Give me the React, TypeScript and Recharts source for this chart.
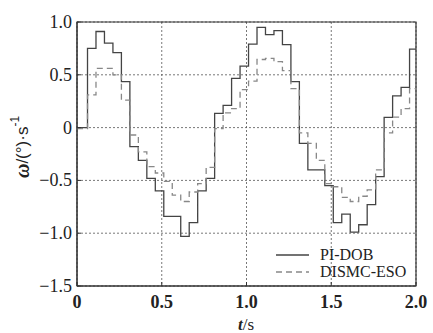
import React from 'react';
import { LineChart, Line, XAxis, YAxis, CartesianGrid, ReferenceArea, Legend, Label } from 'recharts';

const times = [0, 0.062, 0.112, 0.162, 0.212, 0.262, 0.312, 0.362, 0.412, 0.462, 0.512, 0.562, 0.612, 0.662, 0.712, 0.762, 0.812, 0.862, 0.912, 0.962, 1.012, 1.062, 1.112, 1.162, 1.212, 1.262, 1.312, 1.362, 1.412, 1.462, 1.512, 1.562, 1.612, 1.662, 1.712, 1.762, 1.812, 1.862, 1.912, 1.962, 2.0];
const piDob = [0, 0.75, 0.91, 0.8, 0.71, 0.435, -0.18, -0.31, -0.48, -0.6, -0.84, -0.84, -1.03, -0.9, -0.6, -0.48, 0.135, 0.21, 0.467, 0.583, 0.79, 0.95, 0.88, 0.918, 0.785, 0.435, -0.15, -0.4, -0.4, -0.55, -0.9, -0.82, -0.99, -0.92, -0.73, -0.465, 0.097, 0.3, 0.38, 0.744, 0.744];
const dismcEso = [-0.01, 0.31, 0.56, 0.56, 0.5, 0.26, -0.07, -0.23, -0.37, -0.43, -0.51, -0.64, -0.7, -0.61, -0.53, -0.376, -0.01, 0.14, 0.18, 0.36, 0.44, 0.645, 0.655, 0.625, 0.54, 0.37, -0.05, -0.15, -0.31, -0.53, -0.56, -0.66, -0.7, -0.65, -0.59, -0.4, -0.05, 0.1, 0.18, 0.37, 0.37];

const seriesNames = ['PI-DOB', 'DISMC-ESO'];
const xTicks = [0, 0.5, 1.0, 1.5, 2.0];
const xTickLabels = ['0', '0.5', '1.0', '1.5', '2.0'];
const yTicks = [1.0, 0.5, 0, -0.5, -1.0, -1.5];
const yTickLabels = ['1.0', '0.5', '0', '\u22120.5', '\u22121.0', '\u22121.5'];

const data = times.map((t, i) => ({ t, pi: piDob[i], ds: dismcEso[i] }));

const SERIF = '"Liberation Serif", "Times New Roman", serif';
const SANS = '"Liberation Sans", Arial, sans-serif';

const XTick = (props: any) => {
  const { x, y, payload } = props;
  const idx = xTicks.indexOf(payload.value);
  return (
    <g>
      <line x1={x} x2={x} y1={y} y2={y - 4} stroke="#333" strokeWidth={1} />
      <text x={x} y={y + 22} textAnchor="middle" fontFamily={SERIF} fontSize={18} fontWeight="bold" fill="#222">
        {idx >= 0 ? xTickLabels[idx] : payload.value}
      </text>
    </g>
  );
};

const YTick = (props: any) => {
  const { x, y, payload } = props;
  const idx = yTicks.indexOf(payload.value);
  return (
    <g>
      <line x1={x} x2={x + 4} y1={y} y2={y} stroke="#333" strokeWidth={1} />
      <text x={x - 5} y={y + 6} textAnchor="end" fontFamily={SERIF} fontSize={18} fill="#222">
        {idx >= 0 ? yTickLabels[idx] : payload.value}
      </text>
    </g>
  );
};

const renderLegend = () => (
  <svg width={150} height={40}>
    <line x1={6} x2={39} y1={12} y2={12} stroke="#444" strokeWidth={1.3} />
    <text x={50} y={17} fontFamily={SERIF} fontSize={16} fill="#222">{seriesNames[0]}</text>
    <line x1={6} x2={39} y1={29} y2={29} stroke="#888" strokeWidth={1.3} strokeDasharray="6 4" />
    <text x={50} y={34} fontFamily={SERIF} fontSize={16} fill="#222">{seriesNames[1]}</text>
  </svg>
);

export default function App() {
  return (
    <div style={{ position: 'absolute', left: 0, top: 0, width: 433, height: 333, background: '#fff' }}>
      <LineChart width={433} height={333} data={data} margin={{ top: 22, right: 17, bottom: 17, left: 0 }}>
        <CartesianGrid stroke="#555" strokeDasharray="2 2" strokeWidth={0.8} vertical horizontal />
        <XAxis
          dataKey="t"
          type="number"
          domain={[0, 2]}
          ticks={xTicks}
          height={30}
          tickLine={false}
          tickSize={0}
          tickMargin={0}
          axisLine={{ stroke: '#333' }}
          tick={<XTick />}
          allowDataOverflow
        >
          <Label
            content={() => (
              <text x={246} y={330} textAnchor="middle" fontFamily={SERIF} fontSize={17} fill="#222">
                <tspan fontStyle="italic" fontWeight="bold">t</tspan>
                <tspan>/s</tspan>
              </text>
            )}
          />
        </XAxis>
        <YAxis
          type="number"
          domain={[-1.5, 1]}
          ticks={yTicks}
          width={77}
          tickLine={false}
          tickSize={0}
          tickMargin={0}
          axisLine={{ stroke: '#333' }}
          tick={<YTick />}
          allowDataOverflow
        >
          <Label
            content={() => (
              <text
                x={22}
                y={147}
                transform="rotate(-90 22 147)"
                textAnchor="middle"
                dominantBaseline="central"
                fontFamily={SANS}
                fontSize={17}
                fill="#222"
              >
                <tspan fontFamily={SERIF} fontStyle="italic" fontWeight="bold" fontSize={20}>ω</tspan>
                <tspan>/(°)·s</tspan>
                <tspan fontSize={12} dy={-7}>-1</tspan>
              </text>
            )}
          />
        </YAxis>
        <ReferenceArea x1={0} x2={2} y1={-1.5} y2={1} fill="none" stroke="#333" strokeWidth={1.2} ifOverflow="visible" />
        <Line
          type="stepAfter"
          dataKey="pi"
          name={seriesNames[0]}
          stroke="#444"
          strokeWidth={1.3}
          dot={false}
          isAnimationActive={false}
        />
        <Line
          type="stepAfter"
          dataKey="ds"
          name={seriesNames[1]}
          stroke="#888"
          strokeWidth={1.3}
          strokeDasharray="6 4"
          dot={false}
          isAnimationActive={false}
        />
        <Legend
          layout="vertical"
          align="center"
          verticalAlign="middle"
          content={renderLegend}
          wrapperStyle={{ position: 'absolute', left: 270, top: 243, width: 150, height: 40 }}
        />
      </LineChart>
    </div>
  );
}
